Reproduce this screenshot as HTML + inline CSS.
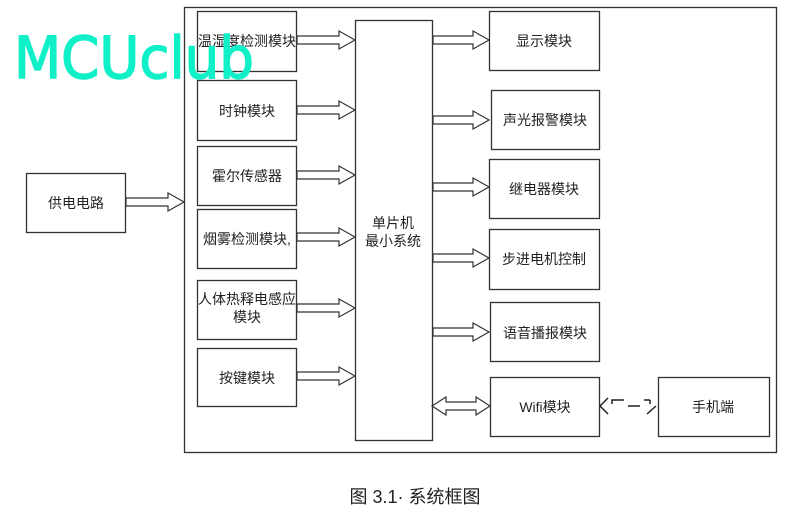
<!DOCTYPE html>
<html><head><meta charset="utf-8"><style>
body{margin:0;background:#fff;width:804px;height:517px;overflow:hidden}
svg{display:block}
text{font-family:"Liberation Sans","Noto Sans CJK SC",sans-serif;font-size:14px;fill:#222}
</style></head><body>
<svg id="s" width="804" height="517" xmlns="http://www.w3.org/2000/svg">
<rect x="184.5" y="7.5" width="592" height="445" fill="none" stroke="#333" stroke-width="1.3"/>
<rect x="355.5" y="20.5" width="77" height="420" fill="none" stroke="#333" stroke-width="1.3"/>
<g fill="none" stroke="#333" stroke-width="1.3">
<rect x="26.5" y="173.5" width="99" height="59"/>
<rect x="197.5" y="11.5" width="99" height="60"/>
<rect x="197.5" y="80.5" width="99" height="60"/>
<rect x="197.5" y="146.5" width="99" height="59"/>
<rect x="197.5" y="209.5" width="99" height="59"/>
<rect x="197.5" y="280.5" width="99" height="59"/>
<rect x="197.5" y="348.5" width="99" height="58"/>
<rect x="489.5" y="11.5" width="110" height="59"/>
<rect x="491.5" y="90.5" width="108" height="59"/>
<rect x="489.5" y="159.5" width="110" height="59"/>
<rect x="489.5" y="229.5" width="110" height="60"/>
<rect x="490.5" y="302.5" width="109" height="59"/>
<rect x="490.5" y="377.5" width="109" height="59"/>
<rect x="658.5" y="377.5" width="111" height="59"/>
</g>
<g id="arr" fill="#fff" stroke="#333" stroke-width="1.2"></g>
<g fill="none" stroke="#222" stroke-width="1.5">
<path d="M608 398 L600 406 L608 414 M612 404 V400 H624 M628 406 H640 M644 400 H650 M650 400 V404 M647 414 L656 406"/>
</g>
<text x="76" y="208" text-anchor="middle">供电电路</text>
<text x="247" y="46" text-anchor="middle">温湿度检测模块</text>
<text x="247" y="116" text-anchor="middle">时钟模块</text>
<text x="247" y="181" text-anchor="middle">霍尔传感器</text>
<text x="247" y="244" text-anchor="middle">烟雾检测模块,</text>
<text x="247" y="304" text-anchor="middle">人体热释电感应</text>
<text x="247" y="322" text-anchor="middle">模块</text>
<text x="247" y="383" text-anchor="middle">按键模块</text>
<text x="393" y="228" text-anchor="middle">单片机</text>
<text x="393" y="246" text-anchor="middle">最小系统</text>
<text x="544" y="46" text-anchor="middle">显示模块</text>
<text x="545" y="125" text-anchor="middle">声光报警模块</text>
<text x="544" y="194" text-anchor="middle">继电器模块</text>
<text x="544" y="264" text-anchor="middle">步进电机控制</text>
<text x="545" y="338" text-anchor="middle">语音播报模块</text>
<text x="545" y="412" text-anchor="middle">Wifi模块</text>
<text x="713" y="412" text-anchor="middle">手机端</text>
<text x="415" y="503" text-anchor="middle" style="font-size:18px">图 3.1· 系统框图</text>
<text x="14" y="78" textLength="240" lengthAdjust="spacingAndGlyphs" style="font-size:58px;fill:#10f0c8;stroke:#10f0c8;stroke-width:1.5;stroke-linejoin:round;font-family:'DejaVu Sans',sans-serif">MCUclub</text>
</svg>
<script>
var g=document.getElementById('arr'),h='';
function a(x1,x2,y){var hs=x2-16;h+='<polygon points="'+x1+','+(y-4)+' '+hs+','+(y-4)+' '+hs+','+(y-9)+' '+x2+','+y+' '+hs+','+(y+9)+' '+hs+','+(y+4)+' '+x1+','+(y+4)+'"/>';}
a(126,184,202);
[40,110,175,237,308,376].forEach(function(y){a(297,355,y)});
[40,120,187,258,332].forEach(function(y){a(433,489,y)});
var y=406,l=432,r=490;
h+='<polygon points="'+l+','+y+' '+(l+14)+','+(y-9)+' '+(l+14)+','+(y-4)+' '+(r-14)+','+(y-4)+' '+(r-14)+','+(y-9)+' '+r+','+y+' '+(r-14)+','+(y+9)+' '+(r-14)+','+(y+4)+' '+(l+14)+','+(y+4)+' '+(l+14)+','+(y+9)+'"/>';
g.innerHTML=h;
</script>
</body></html>
